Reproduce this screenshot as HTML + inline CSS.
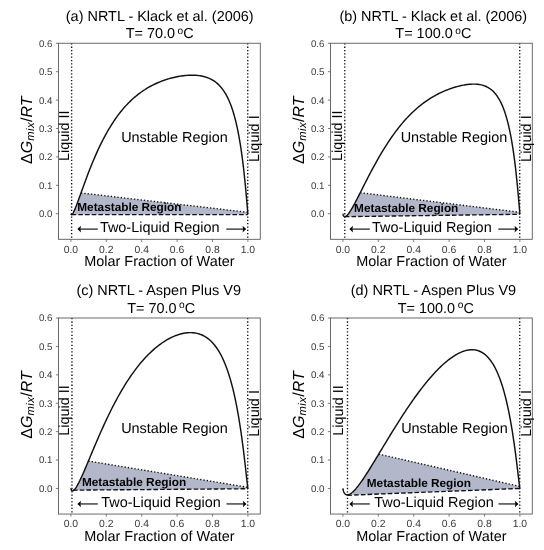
<!DOCTYPE html>
<html lang="en"><head><meta charset="utf-8"><title>NRTL Gibbs energy of mixing</title>
<style>html,body{margin:0;padding:0;background:#fff}svg{display:block}text{text-rendering:geometricPrecision}</style></head>
<body>
<svg width="544" height="550" viewBox="0 0 544 550" font-family='"Liberation Sans", Arial, sans-serif' fill="#000">
<rect width="544" height="550" fill="#fff"/>
<g id="panel-a">
<polygon fill="#b3b7ca" points="71.61,214.55 71.72,214.61 71.99,214.44 72.01,214.43 72.26,214.18 72.53,213.84 72.81,213.45 73.08,213.00 73.11,212.94 73.35,212.52 73.62,212.00 73.90,211.45 74.17,210.87 74.22,210.76 74.44,210.28 74.71,209.66 74.98,209.02 75.26,208.37 75.33,208.21 75.53,207.71 75.80,207.03 76.07,206.35 76.35,205.65 76.43,205.43 76.62,204.94 76.89,204.23 77.16,203.51 77.44,202.78 77.54,202.51 77.71,202.05 77.98,201.32 78.25,200.58 78.52,199.83 78.64,199.51 78.80,199.08 79.07,198.33 79.34,197.58 79.61,196.83 79.75,196.45 79.89,196.07 80.16,195.31 80.43,194.56 80.70,193.80 80.86,193.37 80.98,193.04 81.00,192.97 247.72,212.28 247.72,214.55"/>
<line x1="81.00" y1="192.97" x2="247.72" y2="212.28" stroke="#111" stroke-width="1.4" stroke-dasharray="1.3 2.03"/>
<line x1="71.61" y1="214.55" x2="247.72" y2="214.55" stroke="#111" stroke-width="1.35" stroke-dasharray="4.6 2.1"/>
<line x1="71.61" y1="43.25" x2="71.61" y2="239.30" stroke="#111" stroke-width="1.4" stroke-dasharray="1.3 2.03"/>
<line x1="247.72" y1="43.25" x2="247.72" y2="239.30" stroke="#111" stroke-width="1.4" stroke-dasharray="1.3 2.03"/>
<path fill="none" stroke="#111" stroke-width="1.45" stroke-linejoin="round" d="M70.90,213.70 L71.17,214.47 L71.44,214.65 L71.72,214.61 L71.99,214.44 L72.01,214.43 L72.26,214.18 L72.53,213.84 L72.81,213.45 L73.08,213.00 L73.11,212.94 L73.35,212.52 L73.62,212.00 L73.90,211.45 L74.17,210.87 L74.22,210.76 L74.44,210.28 L74.71,209.66 L74.98,209.02 L75.26,208.37 L75.33,208.21 L75.53,207.71 L75.80,207.03 L76.07,206.35 L76.35,205.65 L76.43,205.43 L76.62,204.94 L76.89,204.23 L77.16,203.51 L77.44,202.78 L77.54,202.51 L77.71,202.05 L77.98,201.32 L78.25,200.58 L78.52,199.83 L78.64,199.51 L78.80,199.08 L79.07,198.33 L79.34,197.58 L79.61,196.83 L79.75,196.45 L79.89,196.07 L80.16,195.31 L80.43,194.56 L80.70,193.80 L80.86,193.37 L80.98,193.04 L81.25,192.28 L81.52,191.52 L81.96,190.29 L83.07,187.22 L84.18,184.17 L85.28,181.15 L86.39,178.17 L87.49,175.23 L88.60,172.34 L89.71,169.50 L90.81,166.71 L91.92,163.98 L93.03,161.30 L94.13,158.67 L95.24,156.11 L96.34,153.60 L97.45,151.14 L98.56,148.75 L99.66,146.41 L100.77,144.12 L101.88,141.90 L102.98,139.73 L104.09,137.61 L105.19,135.55 L106.30,133.54 L107.41,131.58 L108.51,129.67 L109.62,127.82 L110.73,126.01 L111.83,124.25 L112.94,122.54 L114.04,120.88 L115.15,119.26 L116.26,117.69 L117.36,116.16 L118.47,114.67 L119.58,113.22 L120.68,111.82 L121.79,110.46 L122.89,109.13 L124.00,107.84 L125.11,106.59 L126.21,105.38 L127.32,104.20 L128.43,103.06 L129.53,101.95 L130.64,100.87 L131.74,99.83 L132.85,98.81 L133.96,97.83 L135.06,96.88 L136.17,95.95 L137.28,95.06 L138.38,94.19 L139.49,93.35 L140.59,92.53 L141.70,91.74 L142.81,90.97 L143.91,90.23 L145.02,89.51 L146.12,88.82 L147.23,88.14 L148.34,87.49 L149.44,86.86 L150.55,86.25 L151.66,85.66 L152.76,85.09 L153.87,84.53 L154.98,84.00 L156.08,83.49 L157.19,82.99 L158.29,82.51 L159.40,82.05 L160.51,81.60 L161.61,81.17 L162.72,80.76 L163.82,80.36 L164.93,79.97 L166.04,79.61 L167.14,79.25 L168.25,78.91 L169.36,78.59 L170.46,78.28 L171.57,77.99 L172.68,77.70 L173.78,77.44 L174.89,77.18 L175.99,76.95 L177.10,76.72 L178.21,76.51 L179.31,76.31 L180.42,76.13 L181.53,75.96 L182.63,75.81 L183.74,75.67 L184.84,75.55 L185.95,75.45 L187.06,75.36 L188.16,75.28 L189.27,75.23 L190.38,75.19 L191.48,75.17 L192.59,75.17 L193.69,75.19 L194.80,75.23 L195.91,75.29 L197.01,75.38 L198.12,75.49 L199.23,75.63 L200.33,75.79 L201.44,75.98 L202.54,76.21 L203.65,76.46 L204.76,76.76 L205.86,77.09 L206.97,77.46 L208.08,77.87 L209.18,78.33 L210.29,78.83 L211.39,79.40 L212.50,80.01 L213.61,80.69 L214.71,81.44 L215.82,82.26 L216.93,83.16 L218.03,84.14 L219.14,85.22 L220.24,86.40 L221.35,87.68 L222.46,89.09 L223.56,90.63 L224.67,92.31 L225.78,94.15 L226.88,96.16 L227.99,98.37 L229.09,100.79 L230.20,103.44 L230.50,104.20 L230.80,104.98 L231.10,105.78 L231.31,106.35 L231.40,106.61 L231.70,107.45 L232.00,108.32 L232.30,109.21 L232.41,109.55 L232.60,110.12 L232.90,111.06 L233.20,112.02 L233.50,113.00 L233.52,113.07 L233.80,114.02 L234.10,115.06 L234.40,116.13 L234.62,116.95 L234.70,117.22 L235.00,118.35 L235.30,119.51 L235.60,120.70 L235.73,121.23 L235.90,121.92 L236.20,123.18 L236.50,124.47 L236.80,125.79 L236.84,125.96 L237.10,127.16 L237.40,128.56 L237.70,130.00 L237.94,131.21 L238.00,131.49 L238.30,133.01 L238.60,134.58 L238.90,136.20 L239.05,137.02 L239.20,137.86 L239.50,139.57 L239.80,141.33 L240.10,143.14 L240.16,143.49 L240.40,145.01 L240.70,146.93 L241.00,148.91 L241.26,150.69 L241.30,150.95 L241.60,153.05 L241.90,155.22 L242.20,157.45 L242.37,158.73 L242.50,159.75 L242.80,162.12 L243.10,164.56 L243.40,167.08 L243.48,167.72 L243.70,169.67 L244.00,172.35 L244.30,175.11 L244.58,177.77 L244.60,177.95 L244.90,180.88 L245.20,183.89 L245.50,187.00 L245.69,188.98 L245.80,190.19 L246.10,193.46 L246.13,193.79 L246.40,196.82 L246.69,200.18 L246.70,200.25 L246.79,201.34 L247.00,203.74 L247.08,204.66 L247.30,207.25 L247.34,207.72 L247.52,209.78 L247.60,210.71 L247.64,211.15 L247.72,212.06 L247.78,212.65 L247.82,213.03 L247.84,213.28 L247.86,213.43 L247.87,213.53 L247.88,213.60 L247.89,213.64 L247.89,213.66 L247.89,213.68 L247.90,213.69 L247.90,213.69 L247.90,213.70 L247.90,213.70 L247.90,213.70 L247.90,213.70 L247.90,213.70 L247.90,213.70 L247.90,213.70 L247.90,213.70"/>
<rect x="58.5" y="43.25" width="201.8" height="196.05" fill="none" stroke="#5a5a5a" stroke-width="0.9"/>
<path d="M70.90,239.3 v2.6 M106.30,239.3 v2.6 M141.70,239.3 v2.6 M177.10,239.3 v2.6 M212.50,239.3 v2.6 M247.90,239.3 v2.6 M58.5,213.70 h-2.6 M58.5,185.30 h-2.6 M58.5,156.90 h-2.6 M58.5,128.50 h-2.6 M58.5,100.10 h-2.6 M58.5,71.70 h-2.6 M58.5,43.30 h-2.6" stroke="#5a5a5a" stroke-width="0.8" fill="none"/>
<g font-size="10.4" fill="#3a3a3a">
<text x="70.90" y="252.60" text-anchor="middle">0.0</text>
<text x="106.30" y="252.60" text-anchor="middle">0.2</text>
<text x="141.70" y="252.60" text-anchor="middle">0.4</text>
<text x="177.10" y="252.60" text-anchor="middle">0.6</text>
<text x="212.50" y="252.60" text-anchor="middle">0.8</text>
<text x="247.90" y="252.60" text-anchor="middle">1.0</text>
<text x="52.40" y="217.10" text-anchor="end" font-size="9.7">0.0</text>
<text x="52.40" y="188.70" text-anchor="end" font-size="9.7">0.1</text>
<text x="52.40" y="160.30" text-anchor="end" font-size="9.7">0.2</text>
<text x="52.40" y="131.90" text-anchor="end" font-size="9.7">0.3</text>
<text x="52.40" y="103.50" text-anchor="end" font-size="9.7">0.4</text>
<text x="52.40" y="75.10" text-anchor="end" font-size="9.7">0.5</text>
<text x="52.40" y="46.70" text-anchor="end" font-size="9.7">0.6</text>
</g>
<text x="159.40" y="266.10" font-size="14.45" text-anchor="middle">Molar Fraction of Water</text>
<text transform="translate(31.50,130.20) rotate(-90)" font-size="16" text-anchor="middle">Δ<tspan font-style="italic">G</tspan><tspan font-style="italic" font-size="11.2" letter-spacing="0.5" dy="2.4">mix</tspan><tspan dy="-2.4">/</tspan><tspan font-style="italic">RT</tspan></text>
<text x="159.70" y="21.10" font-size="14.45" text-anchor="middle">(a) NRTL - Klack et al. (2006)</text>
<text x="159.70" y="38.30" font-size="14.45" text-anchor="middle">T= 70.0<tspan font-size="10.2" dy="-4.6" dx="2.5">o</tspan><tspan dy="4.6" dx="0.1">C</tspan></text>
<text x="174.50" y="141.50" font-size="14.45" text-anchor="middle">Unstable Region</text>
<text x="129.40" y="211.00" font-size="11.8" font-weight="bold" text-anchor="middle">Metastable Region</text>
<text x="159.70" y="232.20" font-size="14.45" text-anchor="middle">Two-Liquid Region</text>
<path d="M97.8,229.1 H79.35" stroke="#000" stroke-width="1.1" fill="none"/><path d="M77.35,229.1 L81.05,225.79999999999998 Q79.64999999999999,229.1 81.05,232.4 Z" fill="#000"/>
<path d="M226.3,229.1 H244.2" stroke="#000" stroke-width="1.1" fill="none"/><path d="M246.2,229.1 L242.5,225.79999999999998 Q243.89999999999998,229.1 242.5,232.4 Z" fill="#000"/>
<text transform="translate(68.70,135.80) rotate(-90)" font-size="14.45" text-anchor="middle">Liquid II</text>
<text transform="translate(259.10,138.60) rotate(-90)" font-size="14.45" text-anchor="middle">Liquid I</text>
</g>
<g id="panel-b">
<polygon fill="#b3b7ca" points="344.76,216.68 344.81,216.60 345.08,216.58 345.11,216.57 345.35,216.51 345.62,216.41 345.90,216.26 346.17,216.09 346.22,216.06 346.44,215.89 346.71,215.67 346.98,215.42 347.26,215.15 347.32,215.08 347.53,214.86 347.80,214.55 348.07,214.23 348.35,213.89 348.43,213.78 348.62,213.54 348.89,213.17 349.16,212.79 349.44,212.40 349.54,212.26 349.71,212.01 349.98,211.60 350.25,211.18 350.52,210.75 350.64,210.56 350.80,210.32 351.07,209.88 351.34,209.43 351.61,208.97 351.75,208.74 351.89,208.51 352.16,208.04 352.43,207.57 352.70,207.09 352.86,206.82 352.98,206.61 353.25,206.12 353.52,205.63 353.96,204.82 355.07,202.76 356.17,200.66 357.28,198.52 358.39,196.36 359.49,194.18 360.25,192.68 519.72,212.28 519.72,214.27"/>
<line x1="360.25" y1="192.68" x2="519.72" y2="212.28" stroke="#111" stroke-width="1.4" stroke-dasharray="1.3 2.03"/>
<line x1="344.76" y1="216.68" x2="519.72" y2="214.27" stroke="#111" stroke-width="1.35" stroke-dasharray="4.6 2.1"/>
<line x1="344.76" y1="43.25" x2="344.76" y2="239.30" stroke="#111" stroke-width="1.4" stroke-dasharray="1.3 2.03"/>
<line x1="519.72" y1="43.25" x2="519.72" y2="239.30" stroke="#111" stroke-width="1.4" stroke-dasharray="1.3 2.03"/>
<path fill="none" stroke="#111" stroke-width="1.45" stroke-linejoin="round" d="M342.90,213.70 L343.17,214.94 L343.44,215.58 L343.72,216.00 L343.99,216.28 L344.01,216.29 L344.26,216.46 L344.53,216.56 L344.81,216.60 L345.08,216.58 L345.11,216.57 L345.35,216.51 L345.62,216.41 L345.90,216.26 L346.17,216.09 L346.22,216.06 L346.44,215.89 L346.71,215.67 L346.98,215.42 L347.26,215.15 L347.32,215.08 L347.53,214.86 L347.80,214.55 L348.07,214.23 L348.35,213.89 L348.43,213.78 L348.62,213.54 L348.89,213.17 L349.16,212.79 L349.44,212.40 L349.54,212.26 L349.71,212.01 L349.98,211.60 L350.25,211.18 L350.52,210.75 L350.64,210.56 L350.80,210.32 L351.07,209.88 L351.34,209.43 L351.61,208.97 L351.75,208.74 L351.89,208.51 L352.16,208.04 L352.43,207.57 L352.70,207.09 L352.86,206.82 L352.98,206.61 L353.25,206.12 L353.52,205.63 L353.96,204.82 L355.07,202.76 L356.17,200.66 L357.28,198.52 L358.39,196.36 L359.49,194.18 L360.60,191.99 L361.71,189.80 L362.81,187.60 L363.92,185.41 L365.02,183.23 L366.13,181.05 L367.24,178.89 L368.34,176.75 L369.45,174.62 L370.56,172.51 L371.66,170.42 L372.77,168.35 L373.88,166.31 L374.98,164.29 L376.09,162.29 L377.19,160.32 L378.30,158.38 L379.41,156.46 L380.51,154.57 L381.62,152.71 L382.72,150.88 L383.83,149.07 L384.94,147.30 L386.04,145.55 L387.15,143.83 L388.26,142.14 L389.36,140.49 L390.47,138.86 L391.57,137.26 L392.68,135.68 L393.79,134.14 L394.89,132.63 L396.00,131.15 L397.11,129.69 L398.21,128.27 L399.32,126.87 L400.42,125.50 L401.53,124.16 L402.64,122.85 L403.74,121.57 L404.85,120.31 L405.96,119.08 L407.06,117.88 L408.17,116.71 L409.27,115.56 L410.38,114.44 L411.49,113.34 L412.59,112.28 L413.70,111.23 L414.81,110.21 L415.91,109.22 L417.02,108.25 L418.12,107.30 L419.23,106.38 L420.34,105.48 L421.44,104.61 L422.55,103.76 L423.66,102.93 L424.76,102.12 L425.87,101.33 L426.97,100.57 L428.08,99.82 L429.19,99.10 L430.29,98.39 L431.40,97.71 L432.51,97.04 L433.61,96.39 L434.72,95.76 L435.82,95.15 L436.93,94.56 L438.04,93.99 L439.14,93.43 L440.25,92.89 L441.36,92.37 L442.46,91.86 L443.57,91.37 L444.67,90.89 L445.78,90.43 L446.89,89.98 L447.99,89.56 L449.10,89.14 L450.21,88.74 L451.31,88.36 L452.42,87.99 L453.52,87.63 L454.63,87.29 L455.74,86.97 L456.84,86.66 L457.95,86.36 L459.06,86.08 L460.16,85.82 L461.27,85.57 L462.38,85.34 L463.48,85.12 L464.59,84.93 L465.69,84.75 L466.80,84.59 L467.91,84.45 L469.01,84.33 L470.12,84.24 L471.23,84.17 L472.33,84.12 L473.44,84.10 L474.54,84.11 L475.65,84.14 L476.76,84.21 L477.86,84.32 L478.97,84.46 L480.07,84.64 L481.18,84.87 L482.29,85.14 L483.39,85.46 L484.50,85.84 L485.61,86.28 L486.71,86.78 L487.82,87.35 L488.92,88.01 L490.03,88.74 L491.14,89.57 L492.24,90.50 L493.35,91.53 L494.46,92.69 L495.56,93.98 L496.67,95.42 L497.77,97.02 L498.88,98.79 L499.99,100.76 L501.09,102.95 L502.20,105.37 L502.50,106.07 L502.80,106.80 L503.10,107.54 L503.31,108.06 L503.40,108.30 L503.70,109.09 L504.00,109.90 L504.30,110.73 L504.41,111.05 L504.60,111.59 L504.90,112.47 L505.20,113.37 L505.50,114.31 L505.52,114.36 L505.80,115.26 L506.10,116.25 L506.40,117.27 L506.62,118.05 L506.70,118.31 L507.00,119.39 L507.30,120.50 L507.60,121.64 L507.73,122.15 L507.90,122.81 L508.20,124.02 L508.50,125.26 L508.80,126.54 L508.84,126.71 L509.10,127.86 L509.40,129.22 L509.70,130.62 L509.94,131.79 L510.00,132.06 L510.30,133.55 L510.60,135.08 L510.90,136.65 L511.05,137.46 L511.20,138.28 L511.50,139.95 L511.80,141.68 L512.10,143.46 L512.16,143.80 L512.40,145.29 L512.70,147.18 L513.00,149.13 L513.26,150.89 L513.30,151.14 L513.60,153.22 L513.90,155.36 L514.20,157.56 L514.37,158.84 L514.50,159.84 L514.80,162.19 L515.10,164.61 L515.40,167.11 L515.48,167.75 L515.70,169.69 L516.00,172.36 L516.30,175.10 L516.58,177.75 L516.60,177.93 L516.90,180.85 L517.20,183.86 L517.50,186.96 L517.69,188.94 L517.80,190.14 L518.10,193.42 L518.13,193.75 L518.40,196.78 L518.69,200.15 L518.70,200.21 L518.79,201.30 L519.00,203.71 L519.08,204.63 L519.30,207.23 L519.34,207.70 L519.52,209.77 L519.60,210.69 L519.64,211.14 L519.72,212.05 L519.78,212.64 L519.82,213.03 L519.84,213.27 L519.86,213.43 L519.87,213.53 L519.88,213.60 L519.89,213.64 L519.89,213.66 L519.89,213.68 L519.90,213.69 L519.90,213.69 L519.90,213.70 L519.90,213.70 L519.90,213.70 L519.90,213.70 L519.90,213.70 L519.90,213.70 L519.90,213.70 L519.90,213.70"/>
<rect x="330.5" y="43.25" width="201.8" height="196.05" fill="none" stroke="#5a5a5a" stroke-width="0.9"/>
<path d="M342.90,239.3 v2.6 M378.30,239.3 v2.6 M413.70,239.3 v2.6 M449.10,239.3 v2.6 M484.50,239.3 v2.6 M519.90,239.3 v2.6 M330.5,213.70 h-2.6 M330.5,185.30 h-2.6 M330.5,156.90 h-2.6 M330.5,128.50 h-2.6 M330.5,100.10 h-2.6 M330.5,71.70 h-2.6 M330.5,43.30 h-2.6" stroke="#5a5a5a" stroke-width="0.8" fill="none"/>
<g font-size="10.4" fill="#3a3a3a">
<text x="342.90" y="252.60" text-anchor="middle">0.0</text>
<text x="378.30" y="252.60" text-anchor="middle">0.2</text>
<text x="413.70" y="252.60" text-anchor="middle">0.4</text>
<text x="449.10" y="252.60" text-anchor="middle">0.6</text>
<text x="484.50" y="252.60" text-anchor="middle">0.8</text>
<text x="519.90" y="252.60" text-anchor="middle">1.0</text>
<text x="324.40" y="217.10" text-anchor="end" font-size="9.7">0.0</text>
<text x="324.40" y="188.70" text-anchor="end" font-size="9.7">0.1</text>
<text x="324.40" y="160.30" text-anchor="end" font-size="9.7">0.2</text>
<text x="324.40" y="131.90" text-anchor="end" font-size="9.7">0.3</text>
<text x="324.40" y="103.50" text-anchor="end" font-size="9.7">0.4</text>
<text x="324.40" y="75.10" text-anchor="end" font-size="9.7">0.5</text>
<text x="324.40" y="46.70" text-anchor="end" font-size="9.7">0.6</text>
</g>
<text x="431.40" y="266.10" font-size="14.45" text-anchor="middle">Molar Fraction of Water</text>
<text transform="translate(303.50,130.20) rotate(-90)" font-size="16" text-anchor="middle">Δ<tspan font-style="italic">G</tspan><tspan font-style="italic" font-size="11.2" letter-spacing="0.5" dy="2.4">mix</tspan><tspan dy="-2.4">/</tspan><tspan font-style="italic">RT</tspan></text>
<text x="433.30" y="21.10" font-size="14.45" text-anchor="middle">(b) NRTL - Klack et al. (2006)</text>
<text x="433.40" y="38.30" font-size="14.45" text-anchor="middle">T= 100.0<tspan font-size="10.2" dy="-4.6" dx="2.5">o</tspan><tspan dy="4.6" dx="0.1">C</tspan></text>
<text x="454.00" y="141.50" font-size="14.45" text-anchor="middle">Unstable Region</text>
<text x="406.20" y="211.50" font-size="11.8" font-weight="bold" text-anchor="middle">Metastable Region</text>
<text x="431.90" y="232.20" font-size="14.45" text-anchor="middle">Two-Liquid Region</text>
<path d="M369.8,229.1 H351.35" stroke="#000" stroke-width="1.1" fill="none"/><path d="M349.35,229.1 L353.05,225.79999999999998 Q351.65000000000003,229.1 353.05,232.4 Z" fill="#000"/>
<path d="M498.3,229.1 H516.2" stroke="#000" stroke-width="1.1" fill="none"/><path d="M518.2,229.1 L514.5,225.79999999999998 Q515.9000000000001,229.1 514.5,232.4 Z" fill="#000"/>
<text transform="translate(341.60,135.80) rotate(-90)" font-size="14.45" text-anchor="middle">Liquid II</text>
<text transform="translate(531.10,138.60) rotate(-90)" font-size="14.45" text-anchor="middle">Liquid I</text>
</g>
<g id="panel-c">
<polygon fill="#b3b7ca" points="73.02,490.15 73.08,490.73 73.11,490.72 73.35,490.59 73.62,490.40 73.90,490.18 74.17,489.92 74.22,489.87 74.44,489.64 74.71,489.33 74.98,489.00 75.26,488.64 75.33,488.55 75.53,488.26 75.80,487.87 76.07,487.46 76.35,487.03 76.43,486.89 76.62,486.59 76.89,486.13 77.16,485.66 77.44,485.18 77.54,485.00 77.71,484.69 77.98,484.19 78.25,483.67 78.52,483.15 78.64,482.92 78.80,482.62 79.07,482.08 79.34,481.54 79.61,480.98 79.75,480.71 79.89,480.42 80.16,479.86 80.43,479.29 80.70,478.71 80.86,478.38 80.98,478.12 81.25,477.54 81.52,476.94 81.96,475.97 83.07,473.49 84.18,470.97 85.28,468.40 86.39,465.80 87.49,463.18 88.39,461.04 247.72,487.31 247.72,488.73"/>
<line x1="88.39" y1="461.04" x2="247.72" y2="487.31" stroke="#111" stroke-width="1.4" stroke-dasharray="1.3 2.03"/>
<line x1="73.02" y1="490.15" x2="247.72" y2="488.73" stroke="#111" stroke-width="1.35" stroke-dasharray="4.6 2.1"/>
<line x1="71.96" y1="318.00" x2="71.96" y2="514.05" stroke="#111" stroke-width="1.4" stroke-dasharray="1.3 2.03"/>
<line x1="247.72" y1="318.00" x2="247.72" y2="514.05" stroke="#111" stroke-width="1.4" stroke-dasharray="1.3 2.03"/>
<path fill="none" stroke="#111" stroke-width="1.45" stroke-linejoin="round" d="M70.90,488.45 L71.17,489.62 L71.44,490.19 L71.72,490.53 L71.99,490.74 L72.01,490.75 L72.26,490.85 L72.53,490.87 L72.81,490.83 L73.08,490.73 L73.11,490.72 L73.35,490.59 L73.62,490.40 L73.90,490.18 L74.17,489.92 L74.22,489.87 L74.44,489.64 L74.71,489.33 L74.98,489.00 L75.26,488.64 L75.33,488.55 L75.53,488.26 L75.80,487.87 L76.07,487.46 L76.35,487.03 L76.43,486.89 L76.62,486.59 L76.89,486.13 L77.16,485.66 L77.44,485.18 L77.54,485.00 L77.71,484.69 L77.98,484.19 L78.25,483.67 L78.52,483.15 L78.64,482.92 L78.80,482.62 L79.07,482.08 L79.34,481.54 L79.61,480.98 L79.75,480.71 L79.89,480.42 L80.16,479.86 L80.43,479.29 L80.70,478.71 L80.86,478.38 L80.98,478.12 L81.25,477.54 L81.52,476.94 L81.96,475.97 L83.07,473.49 L84.18,470.97 L85.28,468.40 L86.39,465.80 L87.49,463.18 L88.60,460.55 L89.71,457.91 L90.81,455.27 L91.92,452.63 L93.03,450.00 L94.13,447.37 L95.24,444.77 L96.34,442.17 L97.45,439.60 L98.56,437.05 L99.66,434.52 L100.77,432.01 L101.88,429.53 L102.98,427.08 L104.09,424.65 L105.19,422.25 L106.30,419.89 L107.41,417.55 L108.51,415.25 L109.62,412.98 L110.73,410.74 L111.83,408.53 L112.94,406.36 L114.04,404.22 L115.15,402.11 L116.26,400.04 L117.36,398.01 L118.47,396.01 L119.58,394.04 L120.68,392.10 L121.79,390.21 L122.89,388.34 L124.00,386.51 L125.11,384.72 L126.21,382.95 L127.32,381.23 L128.43,379.53 L129.53,377.87 L130.64,376.24 L131.74,374.65 L132.85,373.09 L133.96,371.56 L135.06,370.07 L136.17,368.60 L137.28,367.17 L138.38,365.77 L139.49,364.40 L140.59,363.07 L141.70,361.76 L142.81,360.49 L143.91,359.24 L145.02,358.03 L146.12,356.84 L147.23,355.69 L148.34,354.56 L149.44,353.47 L150.55,352.40 L151.66,351.36 L152.76,350.35 L153.87,349.37 L154.98,348.42 L156.08,347.49 L157.19,346.59 L158.29,345.72 L159.40,344.88 L160.51,344.06 L161.61,343.27 L162.72,342.51 L163.82,341.78 L164.93,341.07 L166.04,340.39 L167.14,339.73 L168.25,339.11 L169.36,338.51 L170.46,337.94 L171.57,337.39 L172.68,336.87 L173.78,336.38 L174.89,335.92 L175.99,335.49 L177.10,335.08 L178.21,334.71 L179.31,334.36 L180.42,334.04 L181.53,333.75 L182.63,333.50 L183.74,333.27 L184.84,333.08 L185.95,332.92 L187.06,332.80 L188.16,332.71 L189.27,332.65 L190.38,332.63 L191.48,332.65 L192.59,332.71 L193.69,332.81 L194.80,332.95 L195.91,333.14 L197.01,333.37 L198.12,333.65 L199.23,333.97 L200.33,334.35 L201.44,334.78 L202.54,335.27 L203.65,335.82 L204.76,336.43 L205.86,337.10 L206.97,337.84 L208.08,338.66 L209.18,339.55 L210.29,340.52 L211.39,341.57 L212.50,342.71 L213.61,343.95 L214.71,345.28 L215.82,346.72 L216.93,348.28 L218.03,349.95 L219.14,351.75 L220.24,353.68 L221.35,355.76 L222.46,357.99 L223.56,360.38 L224.67,362.95 L225.78,365.70 L226.88,368.66 L227.99,371.83 L229.09,375.23 L230.20,378.88 L230.50,379.92 L230.80,380.97 L231.10,382.04 L231.31,382.80 L231.40,383.14 L231.70,384.26 L232.00,385.40 L232.30,386.56 L232.41,387.00 L232.60,387.74 L232.90,388.95 L233.20,390.18 L233.50,391.43 L233.52,391.51 L233.80,392.71 L234.10,394.01 L234.40,395.34 L234.62,396.35 L234.70,396.70 L235.00,398.08 L235.30,399.48 L235.60,400.92 L235.73,401.56 L235.90,402.38 L236.20,403.88 L236.50,405.40 L236.80,406.95 L236.84,407.15 L237.10,408.54 L237.40,410.15 L237.70,411.80 L237.94,413.16 L238.00,413.47 L238.30,415.19 L238.60,416.93 L238.90,418.71 L239.05,419.62 L239.20,420.53 L239.50,422.38 L239.80,424.27 L240.10,426.19 L240.16,426.56 L240.40,428.16 L240.70,430.16 L241.00,432.20 L241.26,434.02 L241.30,434.28 L241.60,436.40 L241.90,438.57 L242.20,440.77 L242.37,442.03 L242.50,443.02 L242.80,445.30 L243.10,447.63 L243.40,450.01 L243.48,450.61 L243.70,452.43 L244.00,454.88 L244.30,457.39 L244.58,459.77 L244.60,459.93 L244.90,462.51 L245.20,465.13 L245.50,467.78 L245.69,469.46 L245.80,470.47 L246.10,473.18 L246.13,473.45 L246.40,475.90 L246.69,478.58 L246.70,478.63 L246.79,479.48 L247.00,481.34 L247.08,482.04 L247.30,483.99 L247.34,484.34 L247.52,485.84 L247.60,486.50 L247.64,486.81 L247.72,487.43 L247.78,487.83 L247.82,488.07 L247.84,488.23 L247.86,488.32 L247.87,488.38 L247.88,488.41 L247.89,488.43 L247.89,488.44 L247.89,488.45 L247.90,488.45 L247.90,488.45 L247.90,488.45 L247.90,488.45 L247.90,488.45 L247.90,488.45 L247.90,488.45 L247.90,488.45 L247.90,488.45 L247.90,488.45"/>
<rect x="58.5" y="318.0" width="201.8" height="196.05" fill="none" stroke="#5a5a5a" stroke-width="0.9"/>
<path d="M70.90,514.05 v2.6 M106.30,514.05 v2.6 M141.70,514.05 v2.6 M177.10,514.05 v2.6 M212.50,514.05 v2.6 M247.90,514.05 v2.6 M58.5,488.45 h-2.6 M58.5,460.05 h-2.6 M58.5,431.65 h-2.6 M58.5,403.25 h-2.6 M58.5,374.85 h-2.6 M58.5,346.45 h-2.6 M58.5,318.05 h-2.6" stroke="#5a5a5a" stroke-width="0.8" fill="none"/>
<g font-size="10.4" fill="#3a3a3a">
<text x="70.90" y="527.35" text-anchor="middle">0.0</text>
<text x="106.30" y="527.35" text-anchor="middle">0.2</text>
<text x="141.70" y="527.35" text-anchor="middle">0.4</text>
<text x="177.10" y="527.35" text-anchor="middle">0.6</text>
<text x="212.50" y="527.35" text-anchor="middle">0.8</text>
<text x="247.90" y="527.35" text-anchor="middle">1.0</text>
<text x="52.40" y="491.85" text-anchor="end" font-size="9.7">0.0</text>
<text x="52.40" y="463.45" text-anchor="end" font-size="9.7">0.1</text>
<text x="52.40" y="435.05" text-anchor="end" font-size="9.7">0.2</text>
<text x="52.40" y="406.65" text-anchor="end" font-size="9.7">0.3</text>
<text x="52.40" y="378.25" text-anchor="end" font-size="9.7">0.4</text>
<text x="52.40" y="349.85" text-anchor="end" font-size="9.7">0.5</text>
<text x="52.40" y="321.45" text-anchor="end" font-size="9.7">0.6</text>
</g>
<text x="159.40" y="540.85" font-size="14.45" text-anchor="middle">Molar Fraction of Water</text>
<text transform="translate(31.50,404.95) rotate(-90)" font-size="16" text-anchor="middle">Δ<tspan font-style="italic">G</tspan><tspan font-style="italic" font-size="11.2" letter-spacing="0.5" dy="2.4">mix</tspan><tspan dy="-2.4">/</tspan><tspan font-style="italic">RT</tspan></text>
<text x="158.70" y="295.25" font-size="14.45" text-anchor="middle">(c) NRTL - Aspen Plus V9</text>
<text x="161.20" y="312.75" font-size="14.45" text-anchor="middle">T= 70.0<tspan font-size="10.2" dy="-4.6" dx="2.5">o</tspan><tspan dy="4.6" dx="0.1">C</tspan></text>
<text x="174.50" y="432.50" font-size="14.45" text-anchor="middle">Unstable Region</text>
<text x="134.00" y="485.55" font-size="11.8" font-weight="bold" text-anchor="middle">Metastable Region</text>
<text x="161.00" y="507.05" font-size="14.45" text-anchor="middle">Two-Liquid Region</text>
<path d="M97.8,503.95 H79.35" stroke="#000" stroke-width="1.1" fill="none"/><path d="M77.35,503.95 L81.05,500.65 Q79.64999999999999,503.95 81.05,507.25 Z" fill="#000"/>
<path d="M226.5,503.95 H244.5" stroke="#000" stroke-width="1.1" fill="none"/><path d="M246.5,503.95 L242.8,500.65 Q244.2,503.95 242.8,507.25 Z" fill="#000"/>
<text transform="translate(69.40,410.55) rotate(-90)" font-size="14.45" text-anchor="middle">Liquid II</text>
<text transform="translate(259.10,413.35) rotate(-90)" font-size="14.45" text-anchor="middle">Liquid I</text>
</g>
<g id="panel-d">
<polygon fill="#b3b7ca" points="352.46,495.07 352.70,492.06 352.86,491.92 352.98,491.81 353.25,491.55 353.52,491.28 353.96,490.84 355.07,489.66 356.17,488.39 357.28,487.04 358.39,485.63 359.49,484.16 360.60,482.64 361.71,481.07 362.81,479.47 363.92,477.83 365.02,476.16 366.13,474.47 367.24,472.75 368.34,471.02 369.45,469.26 370.56,467.49 371.66,465.71 372.77,463.91 373.88,462.11 374.98,460.30 376.09,458.48 377.19,456.65 378.30,454.82 378.75,454.09 519.72,486.46 519.72,488.45"/>
<line x1="378.75" y1="454.09" x2="519.72" y2="486.46" stroke="#111" stroke-width="1.4" stroke-dasharray="1.3 2.03"/>
<line x1="347.50" y1="495.27" x2="519.72" y2="488.45" stroke="#111" stroke-width="1.35" stroke-dasharray="4.6 2.1"/>
<line x1="347.50" y1="318.00" x2="347.50" y2="514.05" stroke="#111" stroke-width="1.4" stroke-dasharray="1.3 2.03"/>
<line x1="519.72" y1="318.00" x2="519.72" y2="514.05" stroke="#111" stroke-width="1.4" stroke-dasharray="1.3 2.03"/>
<path fill="none" stroke="#111" stroke-width="1.45" stroke-linejoin="round" d="M342.90,488.45 L343.17,490.02 L343.44,491.00 L343.72,491.75 L343.99,492.35 L344.01,492.39 L344.26,492.86 L344.53,493.28 L344.81,493.63 L345.08,493.92 L345.11,493.96 L345.35,494.17 L345.62,494.37 L345.90,494.54 L346.17,494.67 L346.22,494.69 L346.44,494.77 L346.71,494.84 L346.98,494.88 L347.26,494.90 L347.32,494.90 L347.53,494.90 L347.80,494.88 L348.07,494.83 L348.35,494.77 L348.43,494.75 L348.62,494.70 L348.89,494.61 L349.16,494.50 L349.44,494.38 L349.54,494.33 L349.71,494.24 L349.98,494.10 L350.25,493.94 L350.52,493.77 L350.64,493.69 L350.80,493.59 L351.07,493.39 L351.34,493.19 L351.61,492.98 L351.75,492.87 L351.89,492.76 L352.16,492.54 L352.43,492.30 L352.70,492.06 L352.86,491.92 L352.98,491.81 L353.25,491.55 L353.52,491.28 L353.96,490.84 L355.07,489.66 L356.17,488.39 L357.28,487.04 L358.39,485.63 L359.49,484.16 L360.60,482.64 L361.71,481.07 L362.81,479.47 L363.92,477.83 L365.02,476.16 L366.13,474.47 L367.24,472.75 L368.34,471.02 L369.45,469.26 L370.56,467.49 L371.66,465.71 L372.77,463.91 L373.88,462.11 L374.98,460.30 L376.09,458.48 L377.19,456.65 L378.30,454.82 L379.41,452.99 L380.51,451.16 L381.62,449.33 L382.72,447.50 L383.83,445.66 L384.94,443.83 L386.04,442.01 L387.15,440.19 L388.26,438.37 L389.36,436.56 L390.47,434.75 L391.57,432.95 L392.68,431.15 L393.79,429.37 L394.89,427.59 L396.00,425.82 L397.11,424.06 L398.21,422.31 L399.32,420.57 L400.42,418.84 L401.53,417.13 L402.64,415.42 L403.74,413.72 L404.85,412.04 L405.96,410.37 L407.06,408.72 L408.17,407.08 L409.27,405.45 L410.38,403.84 L411.49,402.24 L412.59,400.66 L413.70,399.09 L414.81,397.54 L415.91,396.00 L417.02,394.49 L418.12,392.99 L419.23,391.50 L420.34,390.04 L421.44,388.59 L422.55,387.16 L423.66,385.75 L424.76,384.36 L425.87,382.99 L426.97,381.64 L428.08,380.31 L429.19,379.00 L430.29,377.71 L431.40,376.45 L432.51,375.20 L433.61,373.98 L434.72,372.78 L435.82,371.60 L436.93,370.45 L438.04,369.32 L439.14,368.21 L440.25,367.13 L441.36,366.08 L442.46,365.05 L443.57,364.04 L444.67,363.07 L445.78,362.12 L446.89,361.20 L447.99,360.31 L449.10,359.44 L450.21,358.61 L451.31,357.81 L452.42,357.04 L453.52,356.30 L454.63,355.59 L455.74,354.92 L456.84,354.28 L457.95,353.68 L459.06,353.12 L460.16,352.59 L461.27,352.11 L462.38,351.66 L463.48,351.26 L464.59,350.90 L465.69,350.58 L466.80,350.31 L467.91,350.09 L469.01,349.92 L470.12,349.80 L471.23,349.73 L472.33,349.72 L473.44,349.77 L474.54,349.88 L475.65,350.06 L476.76,350.30 L477.86,350.61 L478.97,351.00 L480.07,351.46 L481.18,352.00 L482.29,352.63 L483.39,353.34 L484.50,354.15 L485.61,355.06 L486.71,356.08 L487.82,357.20 L488.92,358.44 L490.03,359.81 L491.14,361.30 L492.24,362.94 L493.35,364.72 L494.46,366.66 L495.56,368.77 L496.67,371.06 L497.77,373.53 L498.88,376.21 L499.99,379.10 L501.09,382.23 L502.20,385.60 L502.50,386.56 L502.80,387.54 L503.10,388.54 L503.31,389.24 L503.40,389.56 L503.70,390.60 L504.00,391.66 L504.30,392.75 L504.41,393.16 L504.60,393.85 L504.90,394.98 L505.20,396.13 L505.50,397.31 L505.52,397.38 L505.80,398.51 L506.10,399.73 L506.40,400.98 L506.62,401.94 L506.70,402.26 L507.00,403.56 L507.30,404.88 L507.60,406.24 L507.73,406.84 L507.90,407.62 L508.20,409.03 L508.50,410.46 L508.80,411.93 L508.84,412.12 L509.10,413.43 L509.40,414.95 L509.70,416.51 L509.94,417.80 L510.00,418.10 L510.30,419.72 L510.60,421.37 L510.90,423.05 L511.05,423.91 L511.20,424.77 L511.50,426.53 L511.80,428.31 L512.10,430.14 L512.16,430.48 L512.40,431.99 L512.70,433.89 L513.00,435.82 L513.26,437.54 L513.30,437.79 L513.60,439.80 L513.90,441.84 L514.20,443.93 L514.37,445.12 L514.50,446.05 L514.80,448.21 L515.10,450.41 L515.40,452.65 L515.48,453.22 L515.70,454.93 L516.00,457.25 L516.30,459.60 L516.58,461.84 L516.60,461.99 L516.90,464.42 L517.20,466.87 L517.50,469.36 L517.69,470.93 L517.80,471.87 L518.10,474.40 L518.13,474.66 L518.40,476.94 L518.69,479.43 L518.70,479.48 L518.79,480.27 L519.00,481.99 L519.08,482.63 L519.30,484.43 L519.34,484.75 L519.52,486.12 L519.60,486.72 L519.64,487.01 L519.72,487.57 L519.78,487.92 L519.82,488.14 L519.84,488.27 L519.86,488.35 L519.87,488.40 L519.88,488.43 L519.89,488.44 L519.89,488.45 L519.89,488.45 L519.90,488.45 L519.90,488.45 L519.90,488.45 L519.90,488.45 L519.90,488.45 L519.90,488.45 L519.90,488.45 L519.90,488.45 L519.90,488.45 L519.90,488.45"/>
<rect x="330.5" y="318.0" width="201.8" height="196.05" fill="none" stroke="#5a5a5a" stroke-width="0.9"/>
<path d="M342.90,514.05 v2.6 M378.30,514.05 v2.6 M413.70,514.05 v2.6 M449.10,514.05 v2.6 M484.50,514.05 v2.6 M519.90,514.05 v2.6 M330.5,488.45 h-2.6 M330.5,460.05 h-2.6 M330.5,431.65 h-2.6 M330.5,403.25 h-2.6 M330.5,374.85 h-2.6 M330.5,346.45 h-2.6 M330.5,318.05 h-2.6" stroke="#5a5a5a" stroke-width="0.8" fill="none"/>
<g font-size="10.4" fill="#3a3a3a">
<text x="342.90" y="527.35" text-anchor="middle">0.0</text>
<text x="378.30" y="527.35" text-anchor="middle">0.2</text>
<text x="413.70" y="527.35" text-anchor="middle">0.4</text>
<text x="449.10" y="527.35" text-anchor="middle">0.6</text>
<text x="484.50" y="527.35" text-anchor="middle">0.8</text>
<text x="519.90" y="527.35" text-anchor="middle">1.0</text>
<text x="324.40" y="491.85" text-anchor="end" font-size="9.7">0.0</text>
<text x="324.40" y="463.45" text-anchor="end" font-size="9.7">0.1</text>
<text x="324.40" y="435.05" text-anchor="end" font-size="9.7">0.2</text>
<text x="324.40" y="406.65" text-anchor="end" font-size="9.7">0.3</text>
<text x="324.40" y="378.25" text-anchor="end" font-size="9.7">0.4</text>
<text x="324.40" y="349.85" text-anchor="end" font-size="9.7">0.5</text>
<text x="324.40" y="321.45" text-anchor="end" font-size="9.7">0.6</text>
</g>
<text x="431.40" y="540.85" font-size="14.45" text-anchor="middle">Molar Fraction of Water</text>
<text transform="translate(303.50,404.95) rotate(-90)" font-size="16" text-anchor="middle">Δ<tspan font-style="italic">G</tspan><tspan font-style="italic" font-size="11.2" letter-spacing="0.5" dy="2.4">mix</tspan><tspan dy="-2.4">/</tspan><tspan font-style="italic">RT</tspan></text>
<text x="433.40" y="295.25" font-size="14.45" text-anchor="middle">(d) NRTL - Aspen Plus V9</text>
<text x="435.80" y="312.75" font-size="14.45" text-anchor="middle">T= 100.0<tspan font-size="10.2" dy="-4.6" dx="2.5">o</tspan><tspan dy="4.6" dx="0.1">C</tspan></text>
<text x="454.50" y="432.50" font-size="14.45" text-anchor="middle">Unstable Region</text>
<text x="418.90" y="486.75" font-size="11.8" font-weight="bold" text-anchor="middle">Metastable Region</text>
<text x="434.00" y="507.05" font-size="14.45" text-anchor="middle">Two-Liquid Region</text>
<path d="M369.8,503.95 H351.35" stroke="#000" stroke-width="1.1" fill="none"/><path d="M349.35,503.95 L353.05,500.65 Q351.65000000000003,503.95 353.05,507.25 Z" fill="#000"/>
<path d="M498.5,503.95 H516.5" stroke="#000" stroke-width="1.1" fill="none"/><path d="M518.5,503.95 L514.8,500.65 Q516.2,503.95 514.8,507.25 Z" fill="#000"/>
<text transform="translate(342.90,410.55) rotate(-90)" font-size="14.45" text-anchor="middle">Liquid II</text>
<text transform="translate(531.10,413.35) rotate(-90)" font-size="14.45" text-anchor="middle">Liquid I</text>
</g>
</svg>
</body></html>
